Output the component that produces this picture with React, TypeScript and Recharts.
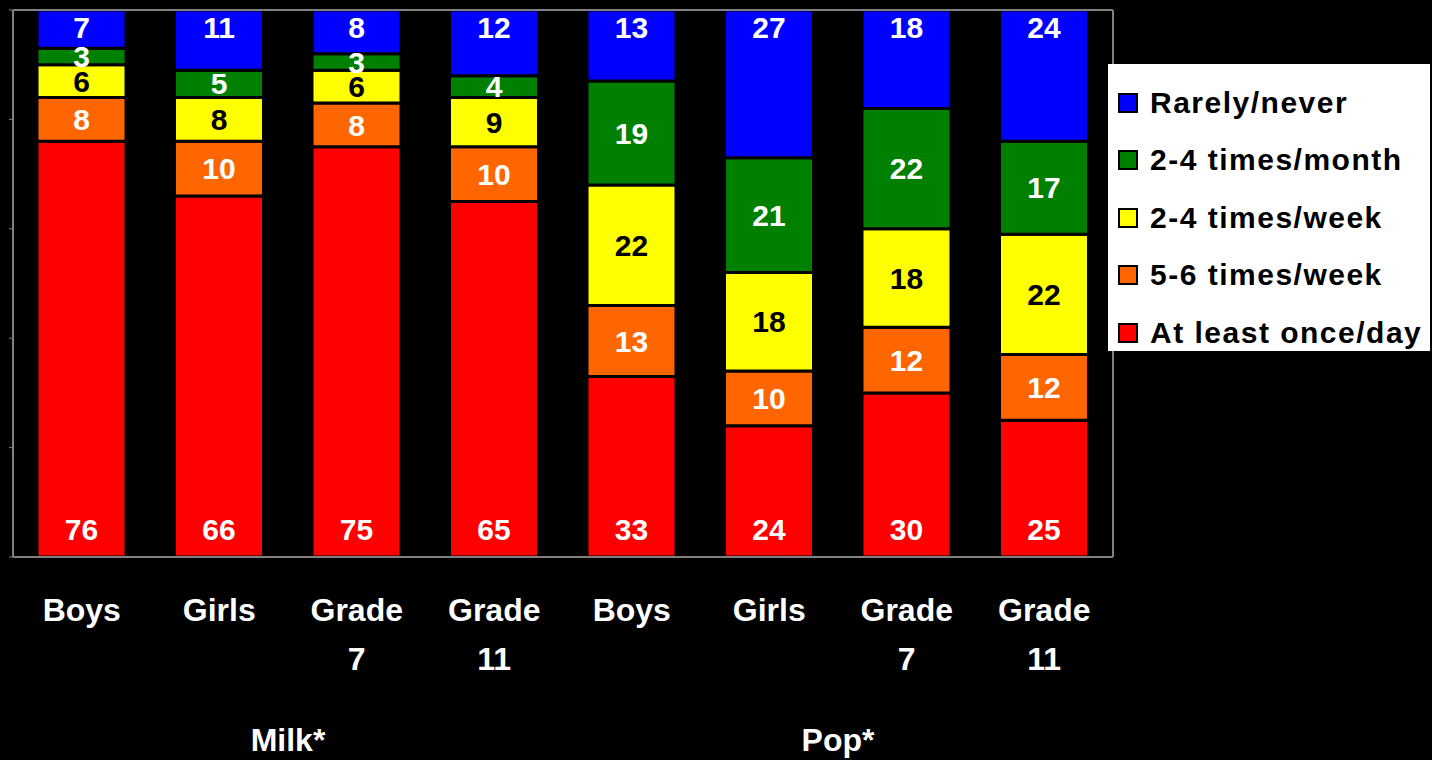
import { BarChart, Bar, XAxis, YAxis, LabelList, ReferenceLine } from 'recharts';

const CATEGORY_IDS = ['milk-boys', 'milk-girls', 'milk-g7', 'milk-g11', 'pop-boys', 'pop-girls', 'pop-g7', 'pop-g11'];
const CATEGORY_LABELS = [['Boys'], ['Girls'], ['Grade', '7'], ['Grade', '11'], ['Boys'], ['Girls'], ['Grade', '7'], ['Grade', '11']];
const GROUP_TICKS = [2, 6];
const GROUP_LABELS = ['Milk*', 'Pop*'];

const daily = [76, 66, 75, 65, 33, 24, 30, 25];
const fiveSix = [8, 10, 8, 10, 13, 10, 12, 12];
const twoFourWeek = [6, 8, 6, 9, 22, 18, 18, 22];
const twoFourMonth = [3, 5, 3, 4, 19, 21, 22, 17];
const rarely = [7, 11, 8, 12, 13, 27, 18, 24];

const SERIES = [
  { key: 'daily', name: 'At least once/day', color: '#FF0000', text: '#FFFFFF', pos: 'insideBottom' },
  { key: 'fiveSix', name: '5-6 times/week', color: '#FF6600', text: '#FFFFFF', pos: 'center' },
  { key: 'twoFourWeek', name: '2-4 times/week', color: '#FFFF00', text: '#000000', pos: 'center' },
  { key: 'twoFourMonth', name: '2-4 times/month', color: '#008000', text: '#FFFFFF', pos: 'center' },
  { key: 'rarely', name: 'Rarely/never', color: '#0000FF', text: '#FFFFFF', pos: 'insideTop' },
] as const;

const FONT = '"Liberation Sans", Arial, sans-serif';

const data = CATEGORY_IDS.map((id, i) => ({
  id,
  idx: i + 0.5,
  daily: daily[i],
  fiveSix: fiveSix[i],
  twoFourWeek: twoFourWeek[i],
  twoFourMonth: twoFourMonth[i],
  rarely: rarely[i],
}));

function CategoryTick({ x, y, index }: { x?: number; y?: number; index?: number }) {
  const lines = CATEGORY_LABELS[index ?? 0] ?? [];
  return (
    <text x={x} y={(y ?? 0) + 56} textAnchor="middle" fill="#fff" fontSize={32} fontWeight={700} fontFamily={FONT}>
      {lines.map((l, i) => (
        <tspan key={i} x={x} dy={i === 0 ? 0 : 49}>
          {l}
        </tspan>
      ))}
    </text>
  );
}

function GroupTick({ x, y, index }: { x?: number; y?: number; index?: number }) {
  return (
    <text x={x} y={(y ?? 0) + 86} textAnchor="middle" fill="#fff" fontSize={32} fontWeight={700} fontFamily={FONT}>
      {GROUP_LABELS[index ?? 0]}
    </text>
  );
}

// legend lists the series top-down, opposite to the stacking order
function LegendBox() {
  const items = [...SERIES].reverse();
  return (
    <div
      style={{
        position: 'absolute',
        left: 1108,
        top: 64,
        background: '#fff',
        width: 322,
        height: 287,
        boxSizing: 'border-box',
        padding: '10px 0 0 10px',
        fontFamily: FONT,
      }}
    >
      {items.map((s) => (
        <div key={s.key} style={{ display: 'flex', alignItems: 'center', height: 57.5 }}>
          <span
            style={{
              display: 'inline-block',
              width: 16,
              height: 16,
              background: s.color,
              border: '2px solid #000',
              marginRight: 12,
            }}
          />
          <span style={{ fontSize: 30, fontWeight: 700, letterSpacing: 1.5, color: '#000', whiteSpace: 'nowrap' }}>
            {s.name}
          </span>
        </div>
      ))}
    </div>
  );
}

export default function App() {
  return (
    <div style={{ position: 'fixed', left: 0, top: 0, width: 1432, height: 760, background: '#000' }}>
      <BarChart width={1432} height={760} data={data} margin={{ top: 10, right: 318, left: 0, bottom: 0 }} barSize={89}>
        <ReferenceLine y={100} stroke="#808080" strokeWidth={2} />
        <XAxis
          dataKey="id"
          height={100}
          axisLine={{ stroke: '#808080', strokeWidth: 2 }}
          tickLine={false}
          tick={<CategoryTick />}
          interval={0}
        />
        <XAxis
          xAxisId="g"
          dataKey="idx"
          type="number"
          domain={[0, 8]}
          ticks={GROUP_TICKS}
          height={103}
          axisLine={false}
          tickLine={false}
          tick={<GroupTick />}
          interval={0}
        />
        <YAxis
          domain={[0, 100]}
          ticks={[0, 20, 40, 60, 80, 100]}
          width={13}
          axisLine={{ stroke: '#808080', strokeWidth: 2 }}
          tickLine={{ stroke: '#808080', strokeWidth: 1 }}
          tickSize={4}
          tick={() => <g />}
        />
        <YAxis
          yAxisId="r"
          orientation="right"
          domain={[0, 100]}
          width={1}
          axisLine={{ stroke: '#808080', strokeWidth: 2 }}
          tickLine={false}
          tick={false}
        />
        {SERIES.map((s) => (
          <Bar
            key={s.key}
            dataKey={s.key}
            name={s.name}
            stackId="freq"
            fill={s.color}
            stroke="#000"
            strokeWidth={3}
            isAnimationActive={false}
          >
            <LabelList
              dataKey={s.key}
              position={s.pos}
              offset={s.pos === 'insideBottom' ? 17 : s.pos === 'insideTop' ? 7 : 4}
              fill={s.text}
              fontSize={30}
              fontWeight={700}
              fontFamily={FONT}
            />
          </Bar>
        ))}
      </BarChart>
      <LegendBox />
    </div>
  );
}
